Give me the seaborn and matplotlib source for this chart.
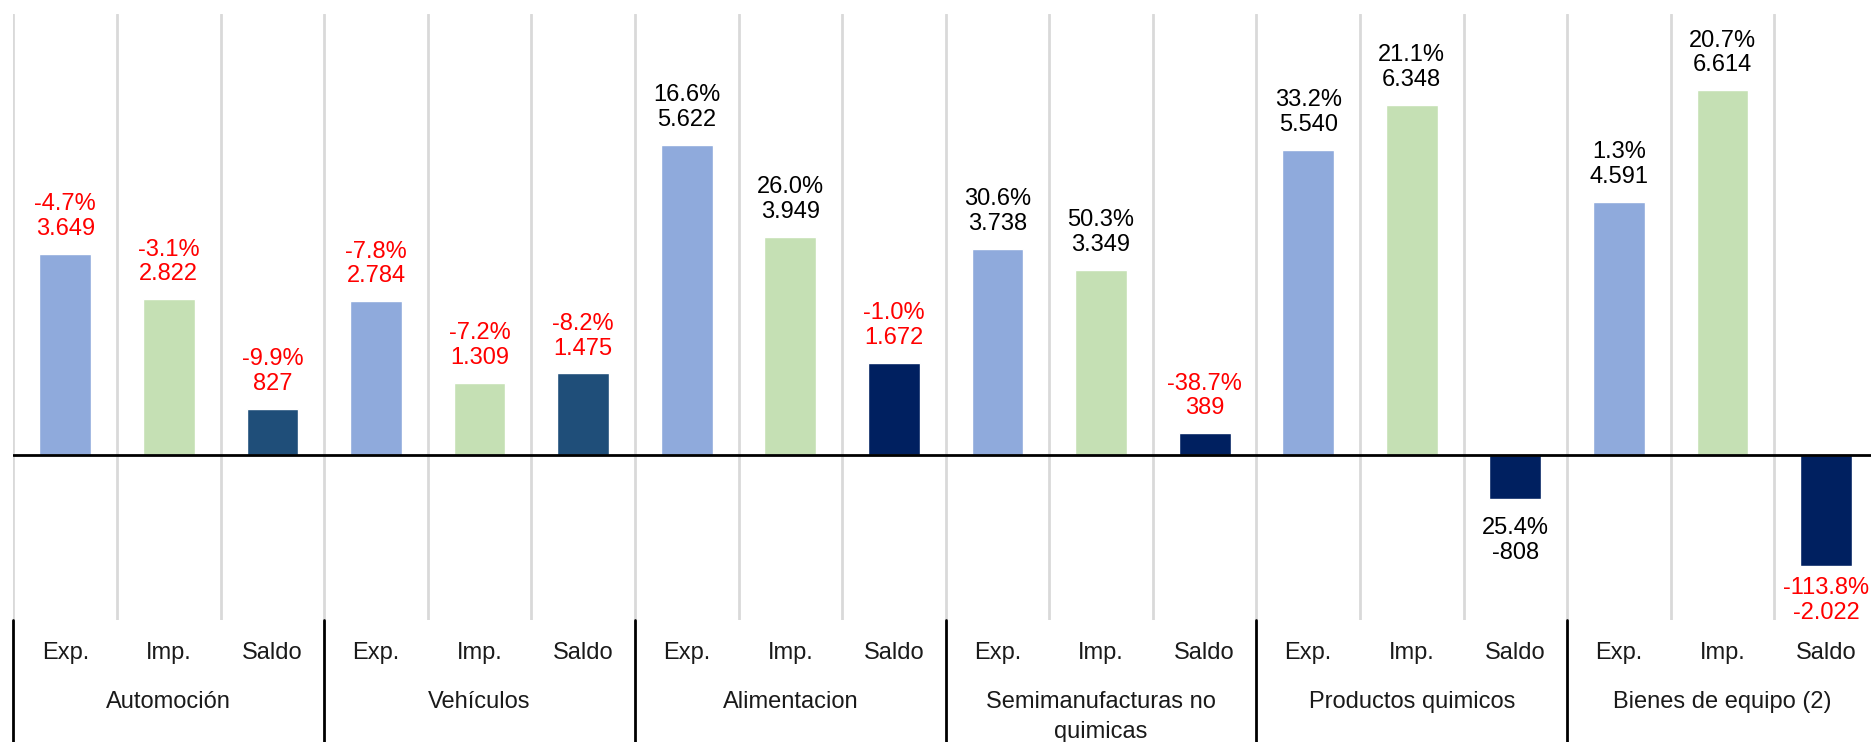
import numpy as np
import pandas as pd
import seaborn as sns
import matplotlib.pyplot as plt
from matplotlib.transforms import blended_transform_factory

# Data (millones de euros and % variation)
grupos = ['Automoción', 'Vehículos', 'Alimentacion',
          'Semimanufacturas no\nquimicas', 'Productos quimicos', 'Bienes de equipo (2)']
tipos = ['Exp.', 'Imp.', 'Saldo']

exp_vals = [3649, 2784, 5622, 3738, 5540, 4591]
imp_vals = [2822, 1309, 3949, 3349, 6348, 6614]
saldo_vals = [827, 1475, 1672, 389, -808, -2022]

exp_pct = [-4.7, -7.8, 16.6, 30.6, 33.2, 1.3]
imp_pct = [-3.1, -7.2, 26.0, 50.3, 21.1, 20.7]
saldo_pct = [-9.9, -8.2, -1.0, -38.7, 25.4, -113.8]

saldo_colors = ['#1F4E79', '#1F4E79', '#002060', '#002060', '#002060', '#002060']

# build a long table, one row per bar
rows = []
for i, g in enumerate(grupos):
    rows.append([g, 'Exp.', exp_vals[i], exp_pct[i], '#8FAADC'])
    rows.append([g, 'Imp.', imp_vals[i], imp_pct[i], '#C5E0B4'])
    rows.append([g, 'Saldo', saldo_vals[i], saldo_pct[i], saldo_colors[i]])
df = pd.DataFrame(rows, columns=['grupo', 'tipo', 'valor', 'pct', 'color'])
df['slot'] = [str(i) for i in range(len(df))]

sns.set_style('white')
plt.rcParams['font.family'] = ['Liberation Sans', 'DejaVu Sans']
FS = 17

fig = plt.figure(figsize=(18.71, 7.42), dpi=100)
ax = fig.add_axes([0.0072, 0.1644, 0.9965, 0.8167])

sns.barplot(data=df, x='slot', y='valor', hue='slot', palette=list(df['color']),
            legend=False, width=0.5, saturation=1, ax=ax)

ymin, ymax = -3000, 8000
ax.set_xlim(-0.5, len(df) - 0.5)
ax.set_ylim(ymin, ymax)
for s in ax.spines.values():
    s.set_visible(False)
ax.set_yticks([])
ax.set_xlabel('')
ax.set_ylabel('')

# category tick labels
ax.set_xticks(range(len(df)))
ax.set_xticklabels(df['tipo'], fontsize=FS, color='#1a1a1a')
ax.tick_params(axis='x', length=0, pad=16)

# light vertical gridlines between every bar slot
for k in range(len(df) + 1):
    ax.axvline(k - 0.5, color='#D9D9D9', lw=2, zorder=0)

# black separators between groups below the plot area
trans = blended_transform_factory(ax.transData, ax.transAxes)
for k in range(0, len(df) + 1, 3):
    ax.plot([k - 0.5, k - 0.5], [0, -0.3], color='black', lw=2,
            transform=trans, clip_on=False)

# group names
for i, g in enumerate(grupos):
    ax.text(i * 3 + 1, -0.117, g, transform=trans, ha='center', va='top',
            fontsize=FS, color='#1a1a1a', linespacing=1.45, clip_on=False)

ax.axhline(0, color='black', lw=2, zorder=3)

# two-line value labels: % variation over value
for k, r in df.iterrows():
    txt = f"{r['pct']:.1f}%\n" + f"{r['valor']:,}".replace(',', '.')
    col = 'red' if r['pct'] < 0 else 'black'
    if r['valor'] >= 0:
        ax.annotate(txt, (k, r['valor']), xytext=(0, 10), textcoords='offset points',
                    ha='center', va='bottom', fontsize=FS, color=col, linespacing=1.17)
    elif r['valor'] - 1300 > ymin:
        ax.annotate(txt, (k, r['valor']), xytext=(0, -13), textcoords='offset points',
                    ha='center', va='top', fontsize=FS, color=col, linespacing=1.17)
    else:
        ax.annotate(txt, (k, ymin), xytext=(0, 1), textcoords='offset points',
                    ha='center', va='baseline', fontsize=FS, color=col, linespacing=1.17)

fig.savefig('out.png', dpi=100)
